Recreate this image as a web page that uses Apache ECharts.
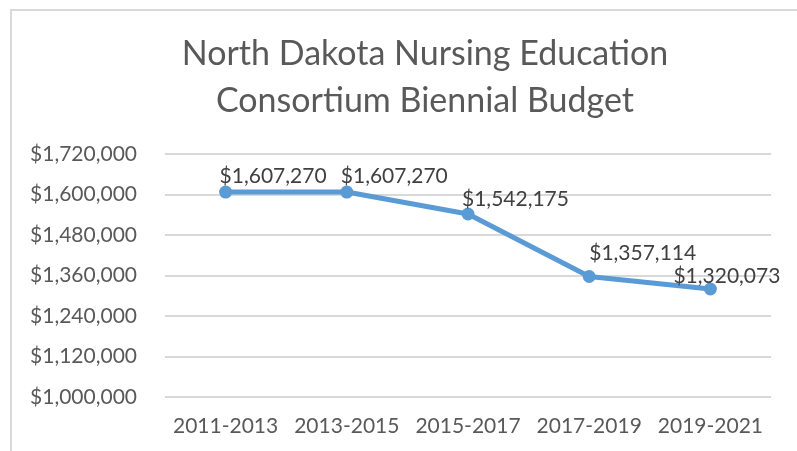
<!DOCTYPE html>
<html>
<head>
<meta charset="utf-8">
<script src="https://cdn.jsdelivr.net/npm/echarts@6/dist/echarts.min.js"></script>
<style>
  html, body { margin: 0; padding: 0; background: #fff; }
  .frame {
    position: absolute; left: 10px; top: 9px;
    width: 900px; height: 600px;
    border: 2px solid #d9d9d9;
  }
  #chart { position: absolute; left: 0; top: 0; width: 797px; height: 451px; }
</style>
</head>
<body>
<div class="frame"></div>
<div id="chart"></div>
<script>
// 数据
var periods = ["2011-2013", "2013-2015", "2015-2017", "2017-2019", "2019-2021"];
var budget = [1607270, 1607270, 1542175, 1357114, 1320073];
// 每个标签的偏移 (Excel 里手动摆的位置)
var labelOffsets = [[-6, 6], [-6, 6], [-6, 7], [0, -1], [-37, 9]];

var chart = echarts.init(document.getElementById("chart"));

function money(v) {
  return "$" + v.toString().replace(/\B(?=(\d{3})+(?!\d))/g, ",");
}

var option = {
  backgroundColor: "transparent",
  textStyle: { fontFamily: "Lato" },
  title: {
    text: "North Dakota Nursing Education\nConsortium Biennial Budget",
    left: 420,
    top: 26,
    textAlign: "center",
    textStyle: {
      fontFamily: "Lato",
      fontSize: 34,
      fontWeight: "normal",
      color: "#595959",
      lineHeight: 47
    }
  },
  grid: { left: 165, right: 26, top: 154, bottom: 54 },
  xAxis: {
    type: "category",
    data: periods,
    boundaryGap: true,
    axisLine: { show: false },
    axisTick: { show: false },
    axisLabel: { color: "#595959", fontSize: 21, margin: 19, interval: 0 }
  },
  yAxis: {
    type: "value",
    min: 1000000,
    max: 1720000,
    interval: 120000,
    axisLine: { show: false },
    axisTick: { show: false },
    splitLine: { lineStyle: { color: "#d9d9d9", width: 2 } },
    axisLabel: { color: "#595959", fontSize: 21, margin: 28, formatter: money }
  },
  series: [
    {
      type: "line",
      data: budget.map(function (v, i) {
        return { value: v, label: { offset: labelOffsets[i] } };
      }),
      symbol: "circle",
      symbolSize: 13,
      lineStyle: { color: "#5b9bd5", width: 5 },
      itemStyle: { color: "#5b9bd5" },
      label: {
        show: true,
        position: "top",
        align: "left",
        color: "#404040",
        fontSize: 21,
        formatter: function (p) { return money(p.value); }
      }
    }
  ]
};
chart.setOption(option);
</script>
</body>
</html>
